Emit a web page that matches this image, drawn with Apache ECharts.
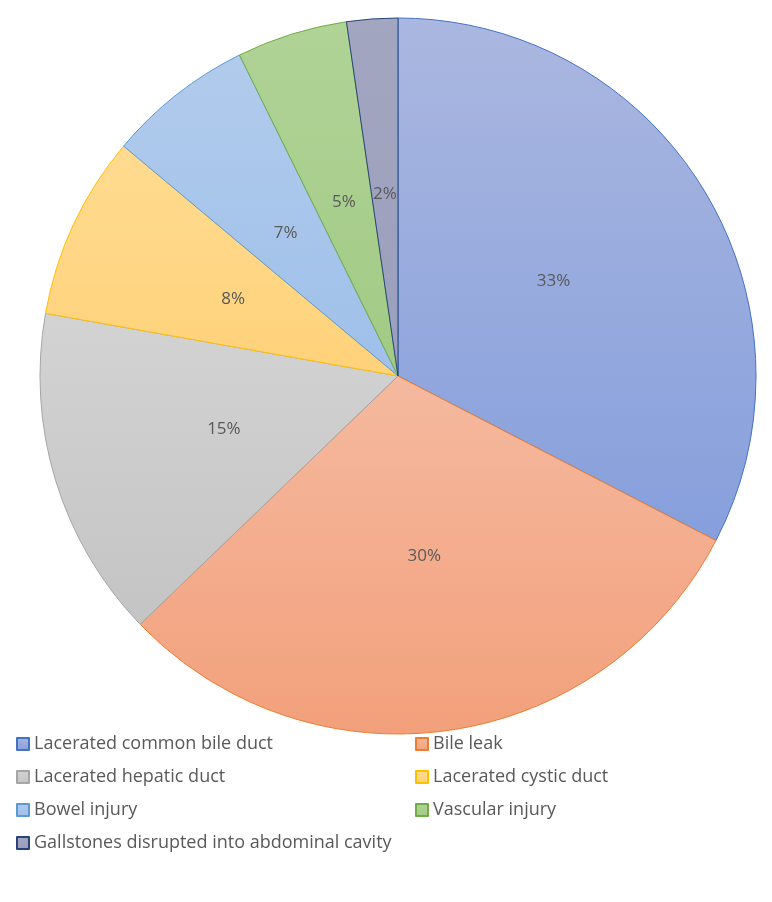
<!DOCTYPE html>
<html>
<head>
<meta charset="utf-8">
<script src="https://cdn.jsdelivr.net/npm/echarts@6/dist/echarts.min.js"></script>
<style>
  html, body { margin: 0; padding: 0; background: #fff; }
  #chart { width: 772px; height: 902px; }
</style>
</head>
<body>
<div id="chart"></div>
<script>
  // slices, clockwise from 12 o'clock
  const categories = [
    'Lacerated common bile duct',
    'Bile leak',
    'Lacerated hepatic duct',
    'Lacerated cystic duct',
    'Bowel injury',
    'Vascular injury',
    'Gallstones disrupted into abdominal cavity'
  ]
  const values = [32.6, 30.2, 15.0, 8.3, 6.6, 5.0, 2.3]

  // fill gradient (top, bottom) and outline per slice
  const topColors = ['#aab7e0', '#f5b99f', '#d3d3d3', '#ffdb90', '#b1cbec', '#b0d396', '#a3a6c0']
  const bottomColors = ['#869fdc', '#f2a07b', '#c4c4c4', '#ffd27a', '#9fc0ea', '#a2ca85', '#9a9fbd']
  const borderColors = ['#4472c4', '#ed7d31', '#a5a5a5', '#ffc000', '#5b9bd5', '#70ad47', '#264478']

  const pieData = categories.map((name, i) => ({
    name,
    value: values[i],
    itemStyle: {
      color: new echarts.graphic.LinearGradient(0, 0, 0, 1, [
        { offset: 0, color: topColors[i] },
        { offset: 1, color: bottomColors[i] }
      ]),
      borderColor: borderColors[i],
      borderWidth: 1
    }
  }))

  const legendText = {
    color: '#595959',
    fontFamily: 'Open Sans',
    fontSize: 18,
    lineHeight: 20
  }

  const chart = echarts.init(document.getElementById('chart'))
  chart.setOption({
    animation: false,
    legend: [
      {
        orient: 'vertical',
        left: 11,
        top: 729,
        itemWidth: 12,
        itemHeight: 12,
        itemGap: 13,
        icon: 'rect',
        data: [categories[0], categories[2], categories[4], categories[6]],
        textStyle: legendText
      },
      {
        orient: 'vertical',
        left: 410,
        top: 729,
        itemWidth: 12,
        itemHeight: 12,
        itemGap: 13,
        icon: 'rect',
        data: [categories[1], categories[3], categories[5]],
        textStyle: legendText
      }
    ],
    series: [
      {
        type: 'pie',
        center: [398, 376],
        radius: 358,
        startAngle: 90,
        clockwise: true,
        data: pieData,
        label: {
          position: 'inside',
          color: '#595959',
          fontFamily: 'Open Sans',
          fontSize: 17,
          formatter: p => Math.round(p.percent) + '%'
        },
        labelLine: { show: false },
        emphasis: { disabled: true }
      }
    ]
  })

  window.addEventListener('resize', () => {
    chart.resize()
  })
</script>
</body>
</html>
